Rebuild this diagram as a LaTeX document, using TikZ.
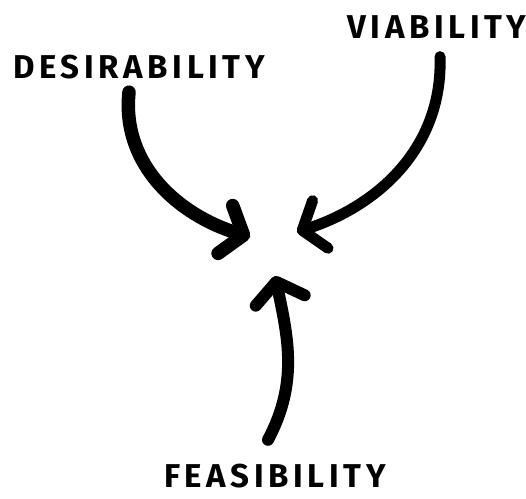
\documentclass[tikz,border=0pt]{standalone}
\usepackage{fontspec}
\setmainfont{Fira Sans}
\usepackage{tikz}
\usetikzlibrary{arrows.meta, positioning}
\newfontfamily\markfont[LetterSpace=14]{Fira Sans}

\tikzset{
  label/.style={inner sep=0pt, font=\markfont\bfseries\fontsize{33}{33}\selectfont},
  bigarrow/.style={line cap=round, -{Straight Barb[length=19pt, width=50pt, round]}},
}

\begin{document}
\begin{tikzpicture}[x=1pt, y=-1pt]
  \useasboundingbox (0,0) rectangle (526,498);
  % the three labels
  \node[label] (desir) at (139,67) {DESIRABILITY};
  \node[label] (viab) at (437,27) {VIABILITY};
  \node[label] (feas) at (275,476) {FEASIBILITY};
  % where the arrows meet
  \coordinate (dtip) at (250,237);
  \coordinate (vtip) at (297,232);
  \coordinate (ftip) at (275,276);
  % arrows
  \draw[bigarrow, line width=13.5pt] ([xshift=-10pt, yshift=-13pt]desir.south) to[out=-96, in=163] (dtip);
  \draw[bigarrow, line width=11pt] ([xshift=3pt, yshift=-18pt]viab.south) to[out=-88, in=18] (vtip);
  \draw[bigarrow, line width=12pt] ([xshift=-7pt, yshift=24pt]feas.north) to[out=62, in=-78] (ftip);
\end{tikzpicture}
\end{document}
